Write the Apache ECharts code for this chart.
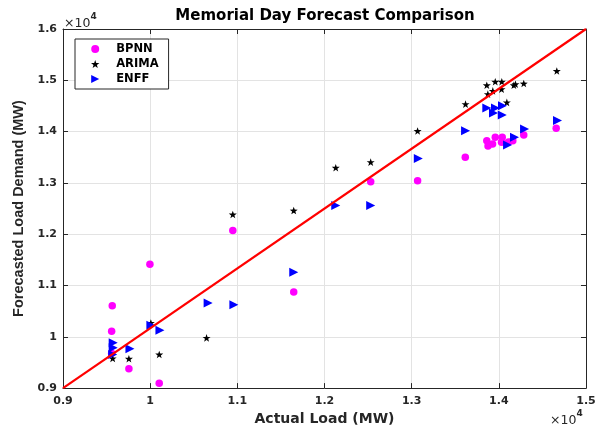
<!DOCTYPE html>
<html>
<head>
<meta charset="utf-8">
<script src="https://cdn.jsdelivr.net/npm/echarts@6/dist/echarts.min.js"></script>
<style>html,body{margin:0;padding:0;background:#fff;}#c{width:603px;height:431px;}</style>
</head>
<body>
<div id="c"></div>
<script>
// ---- data (MW) ----
const bpnnActual = [9565, 9558, 9558, 9756, 10104, 9997, 10948, 11647, 12530, 13068, 13615, 13862, 13876, 13928, 13959, 14039, 14031, 14111, 14160, 14286, 14658];
const bpnnForecast = [10605, 10109, 9679, 9378, 9093, 11414, 12073, 10871, 13023, 13043, 13502, 13824, 13721, 13760, 13890, 13890, 13793, 13799, 13824, 13935, 14065];

const arimaActual = [9570, 9756, 10008, 10104, 10647, 10948, 11647, 12129, 12530, 13068, 13618, 13862, 13874, 13931, 13959, 14034, 14031, 14092, 14172, 14191, 14286, 14665];
const arimaForecast = [9578, 9572, 10270, 9655, 9979, 12384, 12461, 13295, 13405, 14012, 14536, 14904, 14730, 14794, 14972, 14972, 14827, 14569, 14904, 14924, 14937, 15182];

const enffActual = [9576, 9576, 9570, 9768, 10008, 10112, 10665, 10960, 11647, 12129, 12530, 13076, 13618, 13862, 13962, 14042, 13939, 14039, 14100, 14180, 14295, 14673];
const enffForecast = [9882, 9785, 9655, 9766, 10225, 10128, 10658, 10625, 11259, 12558, 12558, 13475, 14018, 14458, 14458, 14503, 14361, 14323, 13741, 13890, 14051, 14216];

const refLineX = [9000, 15000];
const refLineY = [9000, 16000];

const xTicks = [9000, 10000, 11000, 12000, 13000, 14000, 15000];
const xTickLabels = ['0.9', '1', '1.1', '1.2', '1.3', '1.4', '1.5'];
const yTicks = [9000, 10000, 11000, 12000, 13000, 14000, 15000, 16000];
const yTickLabels = ['0.9', '1', '1.1', '1.2', '1.3', '1.4', '1.5', '1.6'];

const seriesNames = ['BPNN', 'ARIMA', 'ENFF'];
const titleText = 'Memorial Day Forecast Comparison';
const xName = 'Actual Load (MW)';
const yName = 'Forecasted Load Demand (MW)';

// ---- helpers ----
const pairs = (xs, ys) => xs.map((x, i) => [x, ys[i]]);
const starPath = 'path://M0,-100 L23.5,-32.4 L95.1,-30.9 L38,12.4 L58.8,80.9 L0,40 L-58.8,80.9 L-38,12.4 L-95.1,-30.9 L-23.5,-32.4 Z';
const triPath = 'path://M0,0 L10,5 L0,10 Z';
const axisColor = '#262626';
const tickFont = { fontFamily: 'DejaVu Sans', fontWeight: 'bold', fontSize: 11, color: axisColor };

function xAxisCfg(showLabel, pos) {
  return {
    type: 'value', position: pos, min: 9000, max: 15000, interval: 1000,
    axisLine: { show: true, onZero: false, lineStyle: { color: axisColor, width: 1 } },
    axisTick: { show: true, inside: true, length: 5, lineStyle: { color: axisColor } },
    axisLabel: showLabel ? Object.assign({ margin: 8, formatter: v => xTickLabels[xTicks.indexOf(v)] }, tickFont) : { show: false },
    splitLine: { show: showLabel, lineStyle: { color: '#e3e3e3', width: 1 } }
  };
}
function yAxisCfg(showLabel, pos) {
  return {
    type: 'value', position: pos, min: 9000, max: 16000, interval: 1000,
    axisLine: { show: true, onZero: false, lineStyle: { color: axisColor, width: 1 } },
    axisTick: { show: true, inside: true, length: 5, lineStyle: { color: axisColor } },
    axisLabel: showLabel ? Object.assign({ margin: 6, formatter: v => yTickLabels[yTicks.indexOf(v)] }, tickFont) : { show: false },
    splitLine: { show: showLabel, lineStyle: { color: '#e3e3e3', width: 1 } }
  };
}

const xMain = xAxisCfg(true, 'bottom');
Object.assign(xMain, {
  name: xName, nameLocation: 'middle', nameGap: 23,
  nameTextStyle: { fontFamily: 'DejaVu Sans', fontWeight: 'bold', fontSize: 14, color: axisColor }
});
const yMain = yAxisCfg(true, 'left');
Object.assign(yMain, {
  name: yName, nameLocation: 'middle', nameGap: 33, nameRotate: 90,
  nameTextStyle: { fontFamily: 'Liberation Sans', fontWeight: 'bold', fontSize: 14.5, color: axisColor }
});

const chart = echarts.init(document.getElementById('c'), null, { renderer: 'canvas' });
chart.setOption({
  animation: false,
  backgroundColor: '#fff',
  title: {
    text: titleText, left: 325, top: 9, padding: 0, textAlign: 'center',
    textStyle: { fontFamily: 'DejaVu Sans', fontWeight: 'bold', fontSize: 15, color: '#000' }
  },
  grid: { left: 63, right: 17, top: 29, bottom: 40, containLabel: false },
  xAxis: [xMain, xAxisCfg(false, 'top')],
  yAxis: [yMain, yAxisCfg(false, 'right')],
  legend: {
    data: seriesNames, orient: 'vertical', left: 75, top: 39,
    padding: [3, 10, 3, 16], itemWidth: 14, itemHeight: 8, itemGap: 1,
    borderColor: axisColor, borderWidth: 1, backgroundColor: '#fff', borderRadius: 0,
    textStyle: { fontFamily: 'DejaVu Sans', fontWeight: 'bold', fontSize: 11.5, color: '#000', lineHeight: 14, padding: [0, 0, 0, 9] }
  },
  graphic: [
    { type: 'text', left: 64, top: 12, style: { text: '{a|×10}{b|4}', rich: { a: { fontFamily: 'DejaVu Sans', fontSize: 12.5, fill: axisColor, padding: [5, 0, 0, 0] }, b: { fontFamily: 'DejaVu Sans', fontWeight: 'bold', fontSize: 9, fill: axisColor, verticalAlign: 'top' } } } },
    { type: 'text', left: 550, top: 409, style: { text: '{a|×10}{b|4}', rich: { a: { fontFamily: 'DejaVu Sans', fontSize: 12.5, fill: axisColor, padding: [5, 0, 0, 0] }, b: { fontFamily: 'DejaVu Sans', fontWeight: 'bold', fontSize: 9, fill: axisColor, verticalAlign: 'top' } } } }
  ],
  series: [
    { name: seriesNames[0], type: 'scatter', data: pairs(bpnnActual, bpnnForecast), symbol: 'circle', symbolSize: 7.5, itemStyle: { color: '#ff00ff', opacity: 1 } },
    { name: seriesNames[1], type: 'scatter', data: pairs(arimaActual, arimaForecast), symbol: starPath, symbolSize: 8, symbolKeepAspect: true, itemStyle: { color: '#000', opacity: 1 } },
    { name: seriesNames[2], type: 'scatter', data: pairs(enffActual, enffForecast), symbol: triPath, symbolSize: [9, 9], itemStyle: { color: '#0000ff', opacity: 1 } },
    { name: 'fit', type: 'line', data: pairs(refLineX, refLineY), symbol: 'none', lineStyle: { color: '#ff0000', width: 2.2 }, z: 5 }
  ]
});
</script>
</body>
</html>
